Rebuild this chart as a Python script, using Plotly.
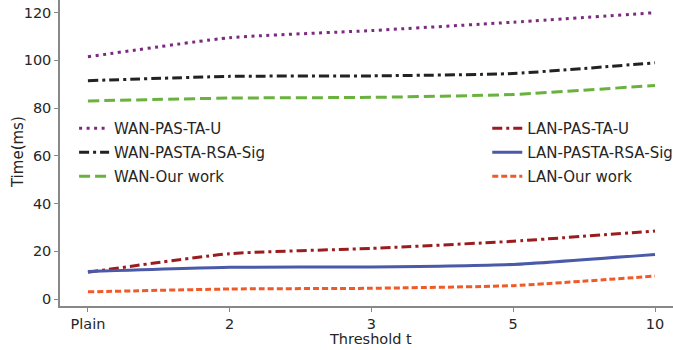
import plotly.graph_objects as go

categories = ["Plain", "2", "3", "5", "10"]
wan_pas_ta_u = [101.5, 109.5, 112.5, 116, 120]
wan_pasta_rsa_sig = [91.5, 93.3, 93.5, 94.5, 99]
wan_our_work = [83, 84.2, 84.5, 85.7, 89.5]
lan_pas_ta_u = [11.2, 19, 21.2, 24.2, 28.5]
lan_pasta_rsa_sig = [11.5, 13.3, 13.4, 14.5, 18.7]
lan_our_work = [3, 4.2, 4.5, 5.6, 9.6]

x_idx = list(range(len(categories)))
font = "DejaVu Sans"
txt = "#262626"

series = [
    ("WAN-PAS-TA-U", wan_pas_ta_u, "#7b2a80", "3px,4.5px", "legend"),
    ("WAN-PASTA-RSA-Sig", wan_pasta_rsa_sig, "#222222", "10px,4px,3px,4px", "legend"),
    ("WAN-Our work", wan_our_work, "#69b23e", "11px,5px", "legend"),
    ("LAN-PAS-TA-U", lan_pas_ta_u, "#9a1c1f", "10px,4px,3px,4px", "legend2"),
    ("LAN-PASTA-RSA-Sig", lan_pasta_rsa_sig, "#4b5aa8", "solid", "legend2"),
    ("LAN-Our work", lan_our_work, "#f05a28", "6px,3px", "legend2"),
]

fig = go.Figure()
for name, vals, color, dash, leg in series:
    fig.add_trace(go.Scatter(
        x=x_idx, y=vals, mode="lines", name=name, legend=leg, legendgroup=name,
        line=dict(color=color, width=3, dash=dash, shape="spline", smoothing=0.5),
    ))

legend_common = dict(
    bgcolor="rgba(0,0,0,0)", font=dict(family=font, size=15, color=txt),
    xanchor="left", yanchor="top", tracegroupgap=1.5, itemwidth=30,
)
fig.update_layout(
    width=673, height=350,
    margin=dict(l=60, r=0, t=0, b=44, autoexpand=False),
    paper_bgcolor="white", plot_bgcolor="white",
    font=dict(family=font, size=15, color=txt),
    legend=dict(x=0.023, y=0.634, **legend_common),
    legend2=dict(x=0.697, y=0.634, **legend_common),
    xaxis=dict(
        tickmode="array", tickvals=x_idx, ticktext=categories,
        range=[-0.197, 4.127], showgrid=False, zeroline=False,
        showline=True, linecolor="#888", linewidth=1.5,
        ticks="outside", ticklen=4, tickcolor="#888",
        tickfont=dict(size=14.5, color=txt), automargin=False,
    ),
    yaxis=dict(
        range=[-2.93, 125.3], tickvals=[0, 20, 40, 60, 80, 100, 120],
        showgrid=False, zeroline=False,
        showline=True, linecolor="#888", linewidth=1.5,
        ticks="outside", ticklen=4, tickcolor="#888",
        tickfont=dict(size=14.5, color=txt), automargin=False,
    ),
    annotations=[
        dict(text="Threshold t", xref="paper", yref="paper", x=0.507, y=0,
             yshift=-33, showarrow=False, yanchor="middle",
             font=dict(family=font, size=14.5, color=txt)),
        dict(text="Time(ms)", xref="paper", yref="paper", x=0, xshift=-42,
             y=0.503, showarrow=False, textangle=-90, xanchor="center",
             font=dict(family=font, size=15, color=txt)),
    ],
)

fig.write_html(
    "out.html",
    config={"displayModeBar": False, "responsive": False},
    post_script=(
        "document.body.style.margin='0';"
        "document.body.style.overflow='hidden';"
        "document.documentElement.style.overflow='hidden';"
    ),
)
